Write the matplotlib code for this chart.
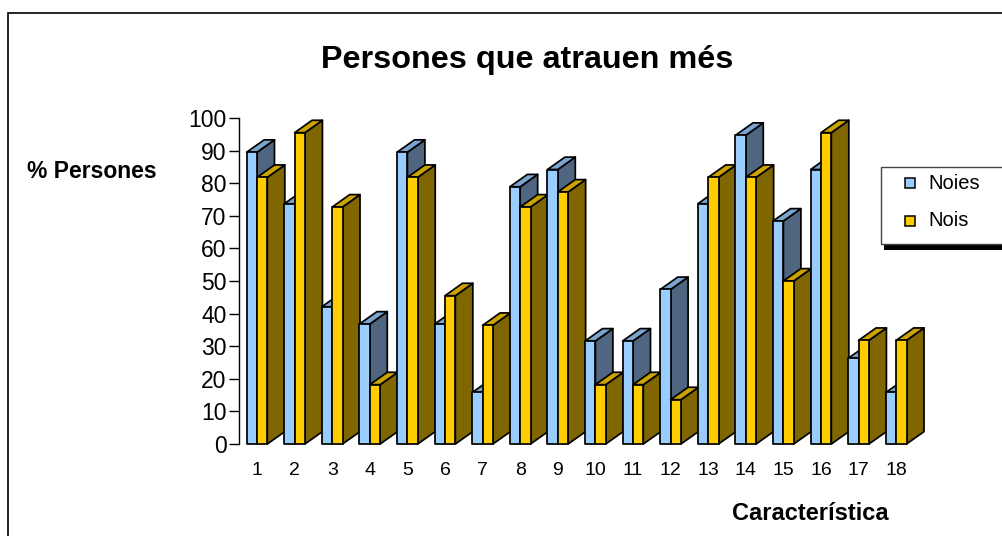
import matplotlib
matplotlib.use("Agg")
import matplotlib.pyplot as plt
from matplotlib.patches import Polygon, Rectangle

plt.rcParams['font.family'] = ['Liberation Sans', 'DejaVu Sans']

# data
categories = [str(i) for i in range(1, 19)]
noies = [89.5, 73.7, 42.1, 36.8, 89.5, 36.8, 15.8, 78.9, 84.2,
         31.6, 31.6, 47.4, 73.7, 94.7, 68.4, 84.2, 26.3, 15.8]
nois = [81.8, 95.5, 72.7, 18.2, 81.8, 45.5, 36.4, 72.7, 77.3,
        18.2, 18.2, 13.6, 81.8, 81.8, 50.0, 95.5, 31.8, 31.8]
series_names = ["Noies", "Nois"]
yticks = list(range(0, 101, 10))

W, H = 1002, 536

# front, top, side colours for each series
colors = {
    "Noies": ("#99CCFF", "#7BA4CE", "#4F6580"),
    "Nois": ("#FFCC00", "#CCA300", "#806600"),
}

BAR_W = 0.275   # width of a bar front, in category units
DX = 0.465      # depth offset in category units
DY = 3.8        # depth offset in value units


def fx(px):
    return px / W


def fy(py):
    return 1 - py / H


def draw_bar(ax, x0, h, front, top, side):
    x1 = x0 + BAR_W
    kw = dict(edgecolor="black", linewidth=1.25, joinstyle="round", clip_on=False)
    ax.add_patch(Polygon([(x1, 0), (x1 + DX, DY), (x1 + DX, h + DY), (x1, h)],
                         closed=True, facecolor=side, **kw))
    ax.add_patch(Polygon([(x0, h), (x0 + DX, h + DY), (x1 + DX, h + DY), (x1, h)],
                         closed=True, facecolor=top, **kw))
    ax.add_patch(Rectangle((x0, 0), BAR_W, h, facecolor=front, **kw))


fig = plt.figure(figsize=(W / 100, H / 100), dpi=100)

# outer chart frame (runs off the right and bottom edges)
fig.patches.append(Rectangle((fx(8), fy(1000)), 2.0, fy(12.5) - fy(1000),
                             transform=fig.transFigure, fill=False,
                             edgecolor="black", linewidth=1.2))

ax_left, ax_right = 238.5, 940
ax = fig.add_axes([fx(ax_left), fy(444), fx(ax_right - ax_left), fy(118) - fy(444)])
ax.set_xlim(1 + (ax_left - 257) / 37.6, 1 + (ax_right - 257) / 37.6)
ax.set_ylim(0, 100)
ax.patch.set_visible(False)

for i in range(len(categories)):
    x = i + 1
    draw_bar(ax, x - BAR_W, noies[i], *colors["Noies"])
    draw_bar(ax, x, nois[i], *colors["Nois"])

for s in ["top", "right", "bottom"]:
    ax.spines[s].set_visible(False)
ax.spines["left"].set_linewidth(1.0)
ax.set_yticks(yticks)
ax.set_yticklabels([str(t) for t in yticks], fontsize=16.5)
ax.tick_params(axis="y", length=7.5, width=1.0, pad=1)
ax.set_xticks(range(1, len(categories) + 1))
ax.set_xticklabels(categories, fontsize=14)
ax.tick_params(axis="x", length=0, pad=13)

fig.text(fx(527), fy(60), "Persones que atrauen més", ha="center", va="center",
         fontsize=23.3, fontweight="bold")
fig.text(fx(27), fy(172), "% Persones", ha="left", va="center",
         fontsize=16.5, fontweight="bold")
fig.text(fx(889), fy(513), "Característica", ha="right", va="center",
         fontsize=17, fontweight="bold")

# legend with a black drop shadow
fig.patches.append(Rectangle((fx(884), fy(250)), fx(200), fy(244) - fy(250),
                             transform=fig.transFigure, facecolor="black",
                             edgecolor="none"))
fig.patches.append(Rectangle((fx(881), fy(244)), fx(200), fy(167) - fy(244),
                             transform=fig.transFigure, facecolor="white",
                             edgecolor="#444444", linewidth=1.0))
for name, ly in zip(series_names, [183, 221]):
    fig.patches.append(Rectangle((fx(904.5), fy(188)+(fy(ly)-fy(183))), fx(10), fy(178) - fy(188),
                                 transform=fig.transFigure,
                                 facecolor=colors[name][0], edgecolor="black",
                                 linewidth=1.1))
    fig.text(fx(928), fy(ly), name, ha="left", va="center", fontsize=14.5)

fig.savefig("out.png", dpi=100)
